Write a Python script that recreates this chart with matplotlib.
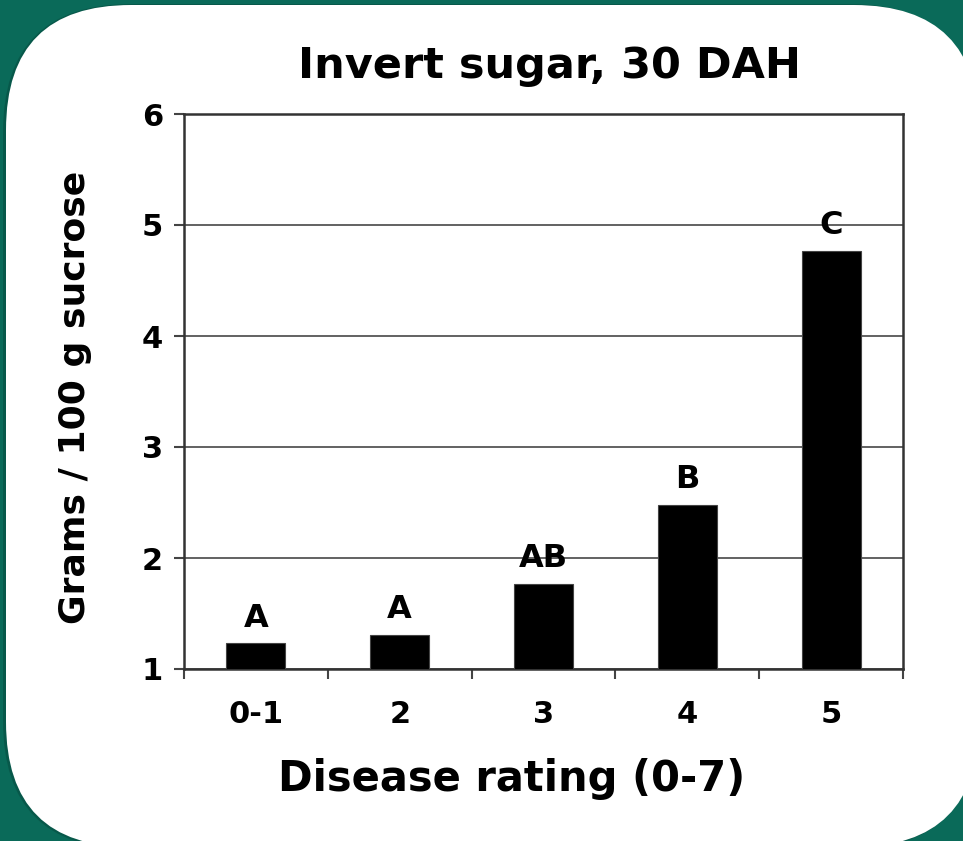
import matplotlib
matplotlib.use("Agg")
import matplotlib.pyplot as plt
from matplotlib.patches import FancyBboxPatch
from matplotlib.transforms import IdentityTransform

categories = ["0-1", "2", "3", "4", "5"]
values = [1.23, 1.31, 1.77, 2.48, 4.77]
letters = ["A", "A", "AB", "B", "C"]
title = "Invert sugar, 30 DAH"
xlabel = "Disease rating (0-7)"
ylabel = "Grams / 100 g sucrose"
yticks = [1, 2, 3, 4, 5, 6]

W, H = 963, 841
fig = plt.figure(figsize=(W / 100, H / 100), dpi=100)
fig.patch.set_facecolor("#0a6a59")

# rounded white panel (pixel coordinates, origin bottom-left)
shadow = FancyBboxPatch((3, -8), W + 12, H - 4 + 8,
                        boxstyle="round,pad=0,rounding_size=128",
                        transform=IdentityTransform(), facecolor="#06483c",
                        edgecolor="none", zorder=-3, alpha=0.5)
panel = FancyBboxPatch((6, -6), W + 10, H - 5 + 6,
                       boxstyle="round,pad=0,rounding_size=125",
                       transform=IdentityTransform(), facecolor="white",
                       edgecolor="none", zorder=-2)
fig.patches.append(shadow)
fig.patches.append(panel)

font = "DejaVu Sans"
ax = fig.add_axes([184 / W, (H - 669) / H, (903 - 184) / W, (669 - 114) / H])
ax.set_zorder(1)
ax.set_facecolor("white")
x = list(range(len(categories)))
ax.bar(x, values, width=0.41, bottom=0, color="black", edgecolor="#444444",
       linewidth=0.8, zorder=3)
ax.set_xlim(-0.5, 4.5)
ax.set_ylim(1, 6)
ax.set_yticks(yticks)
ax.set_yticklabels([str(t) for t in yticks], fontfamily=font, fontweight="bold", fontsize=22)
ax.set_xticks(x)
ax.set_xticklabels(categories, fontfamily=font, fontweight="bold", fontsize=22)
ax.set_xticks([i - 0.5 for i in range(len(categories) + 1)], minor=True)
ax.tick_params(axis="x", which="major", length=0, pad=22)
ax.tick_params(axis="x", which="minor", length=7, width=1.5, color="#444444", direction="out")
ax.tick_params(axis="y", which="major", length=7, width=1.5, color="#444444", direction="out", pad=8)
ax.yaxis.grid(True, color="#555555", linewidth=1.3, zorder=1)
ax.set_axisbelow(True)
for s in ax.spines.values():
    s.set_color("#333333")
    s.set_linewidth(1.8)

for xi, v, lab in zip(x, values, letters):
    ax.annotate(lab, (xi, v), xytext=(0, 7), textcoords="offset points",
                ha="center", va="bottom", fontfamily=font, fontweight="bold",
                fontsize=23, zorder=4)

fig.text(549 / W, 1 - 66 / H, title, ha="center", va="center",
         fontfamily=font, fontweight="bold", fontsize=31)
fig.text(512 / W, 1 - 779 / H, xlabel, ha="center", va="center",
         fontfamily=font, fontweight="bold", fontsize=30)
fig.text(75 / W, 1 - 397 / H, ylabel, ha="center", va="center", rotation=90,
         fontfamily=font, fontweight="bold", fontsize=26)

fig.savefig("out.png", dpi=100, facecolor=fig.get_facecolor())
